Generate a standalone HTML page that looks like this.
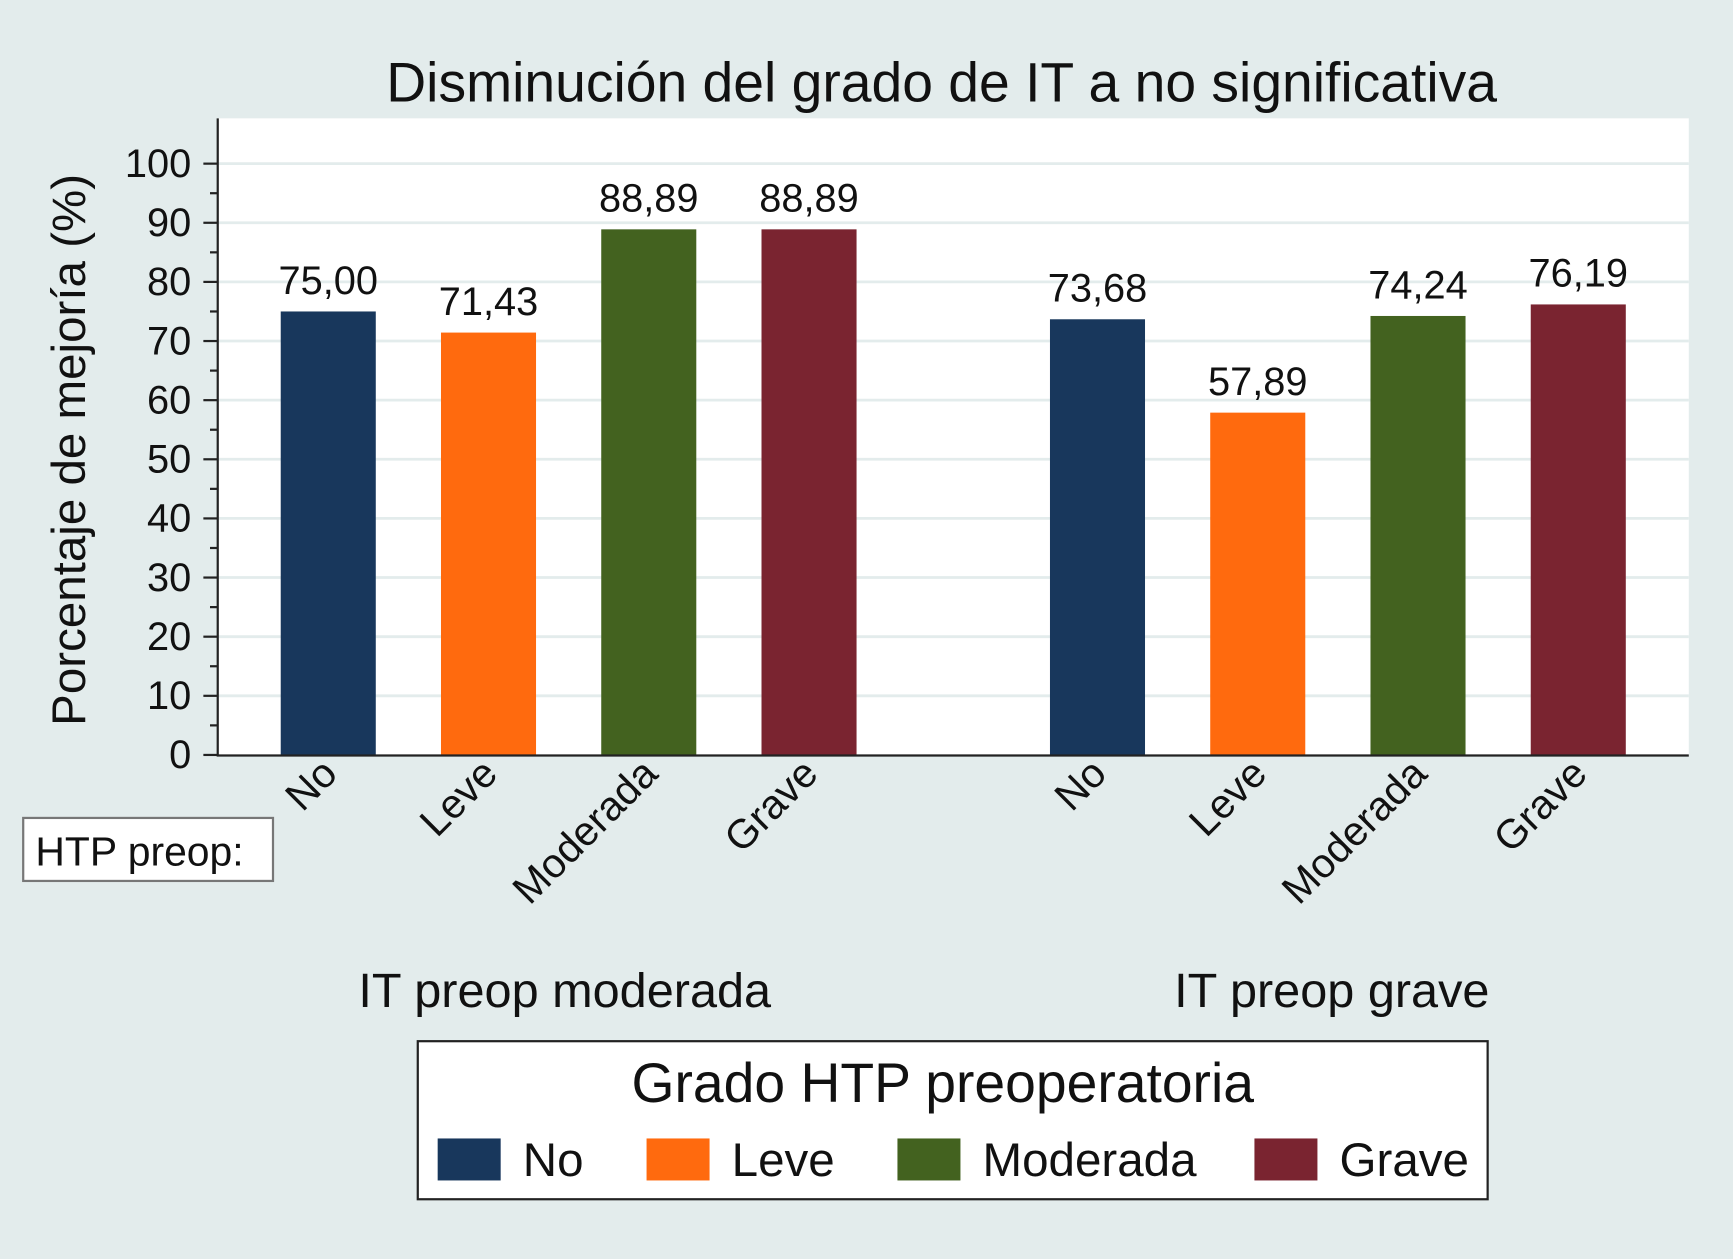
<!DOCTYPE html>
<html><head><meta charset="utf-8"><style>
html,body{margin:0;padding:0;background:#e3ecec;}
svg{display:block;font-family:"Liberation Sans",Arial,sans-serif;}
</style></head><body>
<svg id="chart" width="1733" height="1259" viewBox="0 0 1568 1139" xmlns="http://www.w3.org/2000/svg">
<rect x="0" y="0" width="1568" height="1139" fill="#e3ecec"/>
<text x="852" y="92" font-size="50" text-anchor="middle" fill="#111">Disminución del grado de IT a no significativa</text>
<rect x="197" y="107" width="1331" height="576" fill="#ffffff"/>
<g id="grid"></g>
<g id="bars"></g>
<g id="yaxis"></g>
<g id="xlabels"></g>
<text transform="translate(77,407) rotate(-90)" font-size="43" text-anchor="middle" fill="#111">Porcentaje de mejoría (%)</text>
<rect x="21" y="740" width="226" height="57" fill="#fff" stroke="#777" stroke-width="2"/>
<text x="32" y="783" font-size="37" fill="#111">HTP preop:</text>
<text x="511" y="911" font-size="44" text-anchor="middle" fill="#111">IT preop moderada</text>
<text x="1205" y="911" font-size="44" text-anchor="middle" fill="#111">IT preop grave</text>
<g>
<rect x="378" y="942" width="968" height="143" fill="#fff" stroke="#222" stroke-width="2"/>
<text x="853" y="997" font-size="50" text-anchor="middle" fill="#111">Grado HTP preoperatoria</text>
<g id="legend-entries"></g>
</g>
</svg>
<script>
const categories = ["No","Leve","Moderada","Grave"];
const groups = ["IT preop moderada","IT preop grave"];
const seriesModerada = [75.00, 71.43, 88.89, 88.89];
const seriesGrave = [73.68, 57.89, 74.24, 76.19];
const valueLabelsModerada = ["75,00","71,43","88,89","88,89"];
const valueLabelsGrave = ["73,68","57,89","74,24","76,19"];
const yTicks = [0,10,20,30,40,50,60,70,80,90,100];
const colors = ["#18375c","#ff6a0e","#43621f","#7a2430"];

const NS = "http://www.w3.org/2000/svg";
function el(tag, attrs, parent){const e=document.createElementNS(NS,tag);for(const k in attrs)e.setAttribute(k,attrs[k]);parent.appendChild(e);return e;}
const y0=683, y100=148;
function yScale(v){return y0-(y0-y100)*v/100;}
function xScale(g,i){return 297+g*696+i*145;}
const barW=86;

const grid=document.getElementById('grid');
yTicks.forEach(t=>{ if(t===0) return;
  const l=el('line',{x1:197,x2:1528,y1:yScale(t),y2:yScale(t),stroke:"#e3ecec","stroke-width":2.5},grid);
  
  
});

const bars=document.getElementById('bars');
[seriesModerada,seriesGrave].forEach((s,g)=>{
  const labs = g===0?valueLabelsModerada:valueLabelsGrave;
  s.forEach((v,i)=>{
    const cx=xScale(g,i);
    const r=el('rect',{x:cx-barW/2,y:yScale(v),width:barW,height:y0-yScale(v),fill:colors[i]},bars);
    
    
    const t=el('text',{x:cx,y:yScale(v)-16,"font-size":36,"text-anchor":"middle",fill:"#111"},bars);
    t.textContent=labs[i];
    
    
  });
});

const yaxis=document.getElementById('yaxis');
const ax=el('line',{x1:197,x2:197,y1:107,y2:684,stroke:"#222","stroke-width":2},yaxis);


const xa=el('line',{x1:196,x2:1528,y1:683.5,y2:683.5,stroke:"#222","stroke-width":2},yaxis);


yTicks.forEach(t=>{
  const tk=el('line',{x1:184,x2:197,y1:yScale(t),y2:yScale(t),stroke:"#222","stroke-width":2},yaxis);
  
  
  if(t<100){const m=el('line',{x1:190,x2:197,y1:yScale(t+5),y2:yScale(t+5),stroke:"#222","stroke-width":2},yaxis);
    
    }
  const lb=el('text',{x:173,y:yScale(t)+12,"font-size":36,"text-anchor":"end",fill:"#111"},yaxis);
  lb.textContent=t;
  
  
});

const xl=document.getElementById('xlabels');
groups.forEach((gname,g)=>{
  categories.forEach((c,i)=>{
    const cx=xScale(g,i)+10;
    const t=el('text',{transform:`translate(${cx},${702}) rotate(-45)`,"font-size":37,"text-anchor":"end",fill:"#111"},xl);
    t.textContent=c;
    
    
  });
});

const le=document.getElementById('legend-entries');
const legX=[396,585,812,1135];
categories.forEach((c,i)=>{
  const r=el('rect',{x:legX[i],y:1030,width:57,height:38,fill:colors[i]},le);
  
  
  const t=el('text',{x:legX[i]+77,y:1064,"font-size":43,fill:"#111"},le);
  t.textContent=c;
  
  
});
</script>
</body></html>
